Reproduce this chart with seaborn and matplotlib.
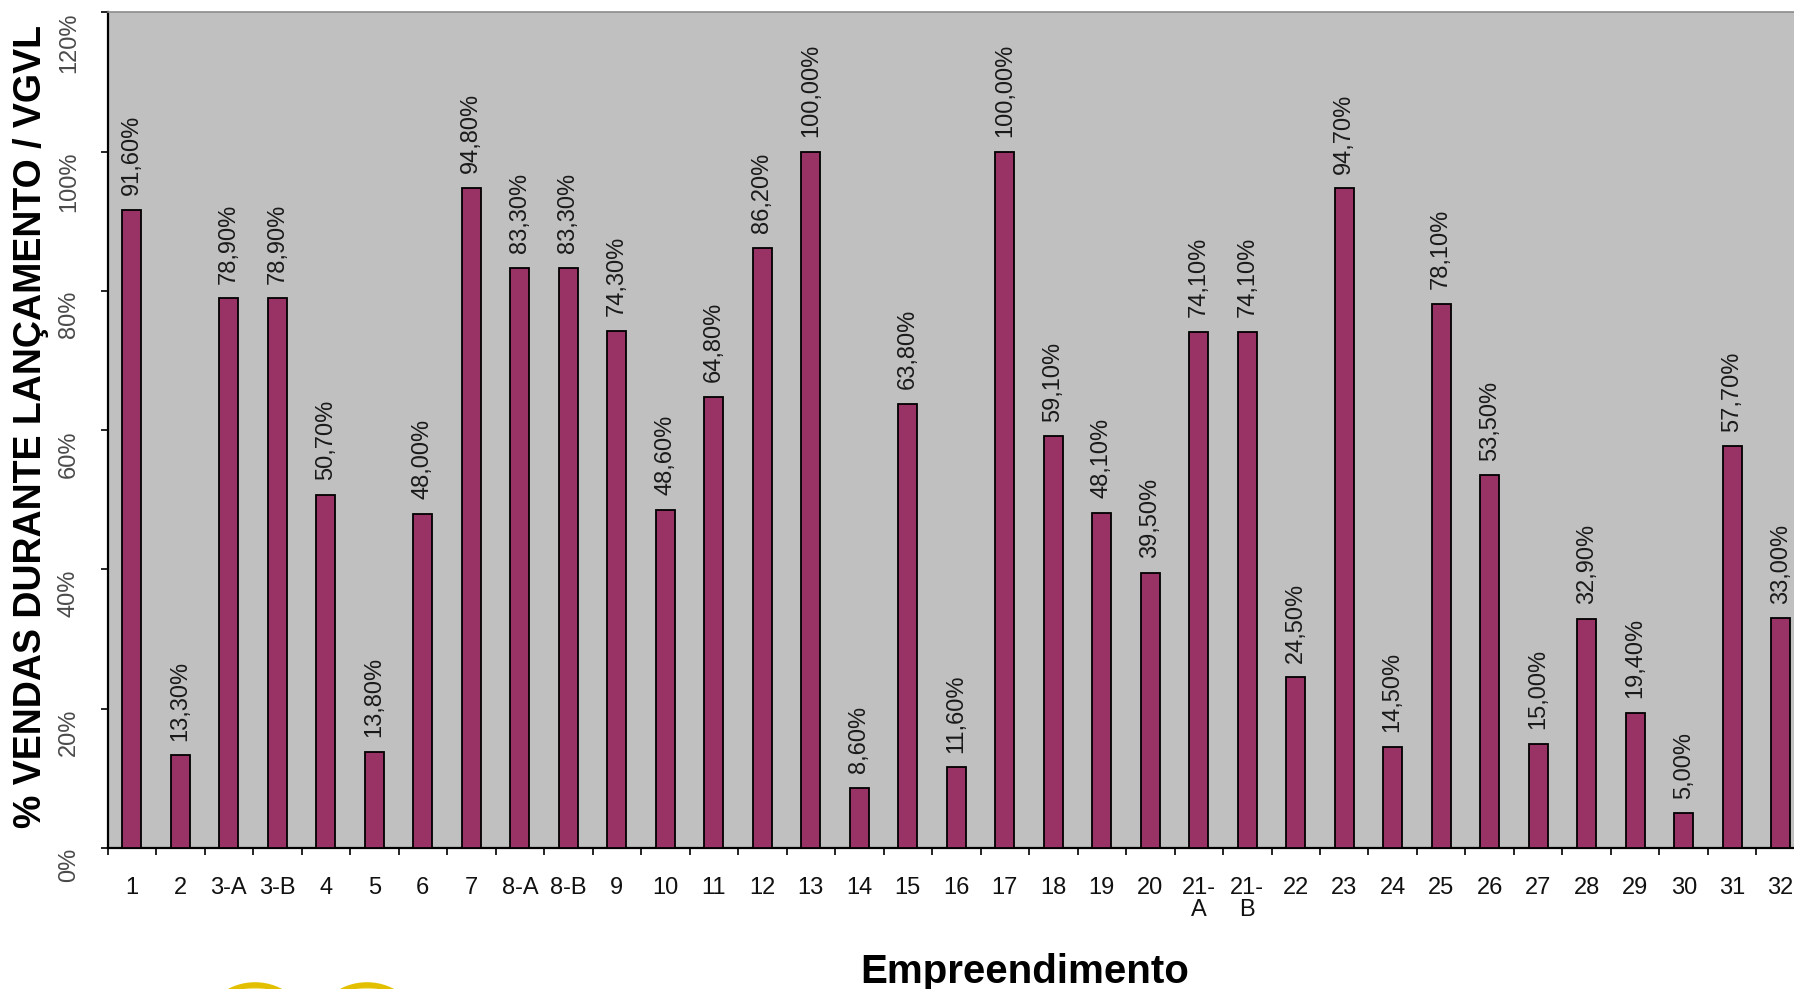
import matplotlib
matplotlib.use("Agg")
import matplotlib.pyplot as plt
import seaborn as sns
import pandas as pd
from matplotlib.patches import Ellipse
from matplotlib.ticker import FixedLocator

# Empreendimentos e % de vendas durante o lançamento sobre o VGVL
empreendimentos = ["1", "2", "3-A", "3-B", "4", "5", "6", "7", "8-A", "8-B",
                   "9", "10", "11", "12", "13", "14", "15", "16", "17", "18",
                   "19", "20", "21-\nA", "21-\nB", "22", "23", "24", "25", "26",
                   "27", "28", "29", "30", "31", "32"]
vendas_pct = [91.6, 13.3, 78.9, 78.9, 50.7, 13.8, 48.0, 94.8, 83.3, 83.3,
              74.3, 48.6, 64.8, 86.2, 100.0, 8.6, 63.8, 11.6, 100.0, 59.1,
              48.1, 39.5, 74.1, 74.1, 24.5, 94.7, 14.5, 78.1, 53.5,
              15.0, 32.9, 19.4, 5.0, 57.7, 33.0]
y_ticks = [0, 20, 40, 60, 80, 100, 120]
y_tick_labels = ["0%", "20%", "40%", "60%", "80%", "100%", "120%"]

sns.set_theme(style="white")
plt.rcParams["font.family"] = ["Liberation Sans", "DejaVu Sans"]

df = pd.DataFrame({"emp": empreendimentos, "valor": vendas_pct})

fig = plt.figure(figsize=(17.94, 9.89), dpi=100)
ax = fig.add_axes([0.0600, 0.1426, 0.9461, 0.8450])
ax.set_facecolor("#C0C0C0")

sns.barplot(data=df, x="emp", y="valor", color="#993366", saturation=1,
            width=0.39, edgecolor="black", linewidth=1.3, ax=ax, zorder=3)

ax.set_xlim(-0.5, len(empreendimentos) - 0.5)
ax.set_ylim(0, 120)

# value labels above each bar
for i, v in enumerate(vendas_pct):
    txt = f"{v:.2f}".replace(".", ",") + "%"
    ax.annotate(txt, (i, v), xytext=(0, 10.5), textcoords="offset points",
                rotation=90, ha="center", va="bottom", fontsize=17,
                color="#1a1a1a", zorder=4)

# y axis
ax.set_yticks(y_ticks)
ax.set_yticklabels(y_tick_labels, rotation=90, va="top", ha="right",
                   fontsize=17, color="#4a4a4a")
ax.tick_params(axis="y", direction="out", length=5, width=1.2, color="black",
               pad=15, left=True)

# x axis: labels at category centres, tick marks between categories
n = len(empreendimentos)
ax.xaxis.set_major_locator(FixedLocator(list(range(n))))
ax.set_xticklabels(empreendimentos, fontsize=17, color="#111111",
                   linespacing=1.0)
ax.tick_params(axis="x", which="major", length=0, pad=21)
ax.xaxis.set_minor_locator(FixedLocator([i - 0.5 for i in range(n + 1)]))
ax.tick_params(axis="x", which="minor", direction="out", length=5,
               width=1.2, color="black", bottom=True)

ax.set_xlabel("")
ax.set_ylabel("")

for side in ["left", "bottom"]:
    ax.spines[side].set_color("black")
    ax.spines[side].set_linewidth(1.6)
ax.spines["top"].set_color("#8c8c8c")
ax.spines["top"].set_linewidth(1.2)
ax.spines["right"].set_visible(False)

fig.text(31 / 1794, 1 - 427 / 989, "% VENDAS DURANTE LANÇAMENTO / VGVL",
         rotation=90, ha="center", va="center", fontsize=27,
         fontweight="bold", color="black")
fig.text(1025 / 1794, 1 - 972 / 989, "Empreendimento", ha="center",
         va="center", fontsize=29, fontweight="bold", color="black")

# logo partially visible at the bottom edge
for cx in (255, 367):
    fig.patches.append(Ellipse((cx / 1794, 1 - 1030 / 989), 100 / 1794,
                               90 / 989, transform=fig.transFigure,
                               facecolor="#F3E27A", edgecolor="#E2C000",
                               linewidth=4))

fig.savefig("out.png", dpi=100, facecolor="white")
